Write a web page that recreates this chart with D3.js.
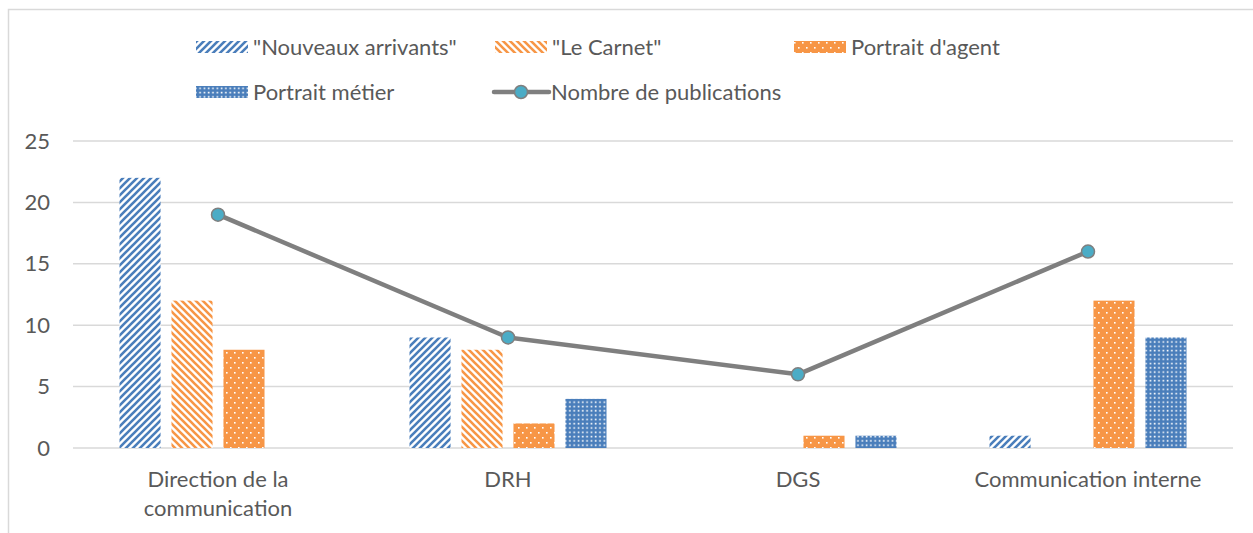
<!DOCTYPE html>
<html>
<head>
<meta charset="utf-8">
<script src="https://cdn.jsdelivr.net/npm/d3@7"></script>
<style>
  body { margin: 0; background: #fff; }
  text { font-family: Lato, "Open Sans", sans-serif; fill: #595959; }
</style>
</head>
<body>
<div id="chart"></div>
<script>
const categories = ["Direction de la communication", "DRH", "DGS", "Communication interne"];
const categoryLines = [["Direction de la", "communication"], ["DRH"], ["DGS"], ["Communication interne"]];
const seriesNames = ["\"Nouveaux arrivants\"", "\"Le Carnet\"", "Portrait d'agent", "Portrait métier"];
const nouveauxArrivants = [22, 9, 0, 1];
const leCarnet = [12, 8, 0, 0];
const portraitAgent = [8, 2, 1, 12];
const portraitMetier = [0, 4, 1, 9];
const lineName = "Nombre de publications";
const nombrePublications = [19, 9, 6, 16];
const yTicks = [0, 5, 10, 15, 20, 25];

const blue = "#4A7EBB";
const orange = "#F79646";
const fontSize = "22px";

const width = 1253;
const height = 533;
const margin = { left: 73, right: 20, top: 141, bottom: 85 };
const plotW = 1233 - margin.left;
const y0 = 448;

const svg = d3.select("#chart")
  .append("svg")
  .attr("width", width)
  .attr("height", height);

// patterns
const defs = svg.append("defs");

const p1 = defs.append("pattern").attr("id", "upDiag")
  .attr("patternUnits", "userSpaceOnUse").attr("width", 7).attr("height", 7);
p1.append("rect").attr("width", 7).attr("height", 7).attr("fill", "#fff");
p1.append("path").attr("d", "M-1,1 l2,-2 M0,7 l7,-7 M6,8 l2,-2")
  .attr("stroke", blue).attr("stroke-width", 2.6);

const p2 = defs.append("pattern").attr("id", "downDiag")
  .attr("patternUnits", "userSpaceOnUse").attr("width", 7).attr("height", 7);
p2.append("rect").attr("width", 7).attr("height", 7).attr("fill", "#fff");
p2.append("path").attr("d", "M-1,6 l2,2 M0,0 l7,7 M6,-1 l2,2")
  .attr("stroke", orange).attr("stroke-width", 2.6);

const p3 = defs.append("pattern").attr("id", "orangeDots")
  .attr("patternUnits", "userSpaceOnUse").attr("width", 8).attr("height", 10);
p3.append("rect").attr("width", 8).attr("height", 10).attr("fill", orange);
p3.append("rect").attr("x", 2).attr("y", 2).attr("width", 1.6).attr("height", 1.6).attr("fill", "#fff");
p3.append("rect").attr("x", 6).attr("y", 7).attr("width", 1.6).attr("height", 1.6).attr("fill", "#fff");

const p4 = defs.append("pattern").attr("id", "blueDots")
  .attr("patternUnits", "userSpaceOnUse").attr("width", 4.3).attr("height", 4.3);
p4.append("rect").attr("width", 4.3).attr("height", 4.3).attr("fill", blue);
p4.append("rect").attr("x", 1.5).attr("y", 1.5).attr("width", 1.6).attr("height", 1.6).attr("fill", "#fff");

const fills = ["url(#upDiag)", "url(#downDiag)", "url(#orangeDots)", "url(#blueDots)"];
const seriesValues = [nouveauxArrivants, leCarnet, portraitAgent, portraitMetier];

// chart border
svg.append("rect")
  .attr("x", 8.5).attr("y", 9.5)
  .attr("width", 1300).attr("height", 600)
  .attr("fill", "none").attr("stroke", "#D9D9D9").attr("stroke-width", 1.5);

const x = d3.scaleBand()
  .domain(categories)
  .range([margin.left, margin.left + plotW]);

const y = d3.scaleLinear()
  .domain([0, 25])
  .range([y0, margin.top]);

const xInner = d3.scaleBand()
  .domain(d3.range(seriesValues.length))
  .range([0, 197])
  .paddingInner(0.21);

// gridlines
svg.append("g")
  .selectAll("line")
  .data(yTicks)
  .join("line")
  .attr("x1", margin.left).attr("x2", margin.left + plotW)
  .attr("y1", d => y(d)).attr("y2", d => y(d))
  .attr("stroke", "#D9D9D9").attr("stroke-width", 1.5);

// y axis labels
const yAxis = svg.append("g")
  .attr("transform", `translate(${margin.left}, 0)`)
  .call(d3.axisLeft(y).tickValues(yTicks).tickSize(0).tickPadding(23));
yAxis.select(".domain").remove();
yAxis.selectAll("text")
  .style("font-size", fontSize)
  .style("font-family", "Lato, sans-serif")
  .attr("fill", "#595959");

// bars
seriesValues.forEach((vals, si) => {
  svg.append("g")
    .selectAll("rect")
    .data(vals.map((v, i) => ({ cat: categories[i], v })))
    .join("rect")
    .attr("x", d => x(d.cat) + x.bandwidth() / 2 - 197 / 2 + xInner(si))
    .attr("y", d => y(d.v))
    .attr("width", xInner.bandwidth())
    .attr("height", d => y(0) - y(d.v))
    .attr("fill", fills[si]);
});

// x labels
const xl = svg.append("g");
categoryLines.forEach((lines, i) => {
  const t = xl.append("text")
    .attr("x", x(categories[i]) + x.bandwidth() / 2)
    .attr("y", 487)
    .attr("text-anchor", "middle")
    .style("font-size", fontSize);
  lines.forEach((l, j) => {
    t.append("tspan")
      .attr("x", x(categories[i]) + x.bandwidth() / 2)
      .attr("dy", j === 0 ? 0 : 29)
      .text(l);
  });
});

// line
const pts = nombrePublications.map((v, i) => [x(categories[i]) + x.bandwidth() / 2, y(v)]);
svg.append("path")
  .datum(pts)
  .attr("d", d3.line())
  .attr("fill", "none")
  .attr("stroke", "#7F7F7F")
  .attr("stroke-width", 4.5)
  .attr("stroke-linejoin", "round");
svg.append("g")
  .selectAll("circle")
  .data(pts)
  .join("circle")
  .attr("cx", d => d[0]).attr("cy", d => d[1])
  .attr("r", 6.5)
  .attr("fill", "#4BACC6")
  .attr("stroke", "#7F7F7F")
  .attr("stroke-width", 1.5);

// legend
const legendItems = [
  { name: seriesNames[0], fill: fills[0], x: 196, y: 47 },
  { name: seriesNames[1], fill: fills[1], x: 495, y: 47 },
  { name: seriesNames[2], fill: fills[2], x: 794, y: 47 },
  { name: seriesNames[3], fill: fills[3], x: 196, y: 92 }
];
const lg = svg.append("g");
legendItems.forEach(it => {
  lg.append("rect")
    .attr("x", it.x).attr("y", it.y - 6)
    .attr("width", 52).attr("height", 12)
    .attr("fill", it.fill);
  lg.append("text")
    .attr("x", it.x + 57).attr("y", it.y + 7.5)
    .style("font-size", fontSize)
    .text(it.name);
});
lg.append("line")
  .attr("x1", 494).attr("x2", 549).attr("y1", 92).attr("y2", 92)
  .attr("stroke", "#7F7F7F").attr("stroke-width", 4.5).attr("stroke-linecap", "round");
lg.append("circle")
  .attr("cx", 521).attr("cy", 92).attr("r", 6.5)
  .attr("fill", "#4BACC6").attr("stroke", "#7F7F7F").attr("stroke-width", 1.5);
lg.append("text")
  .attr("x", 551).attr("y", 99.5)
  .style("font-size", fontSize)
  .text(lineName);
</script>
</body>
</html>
